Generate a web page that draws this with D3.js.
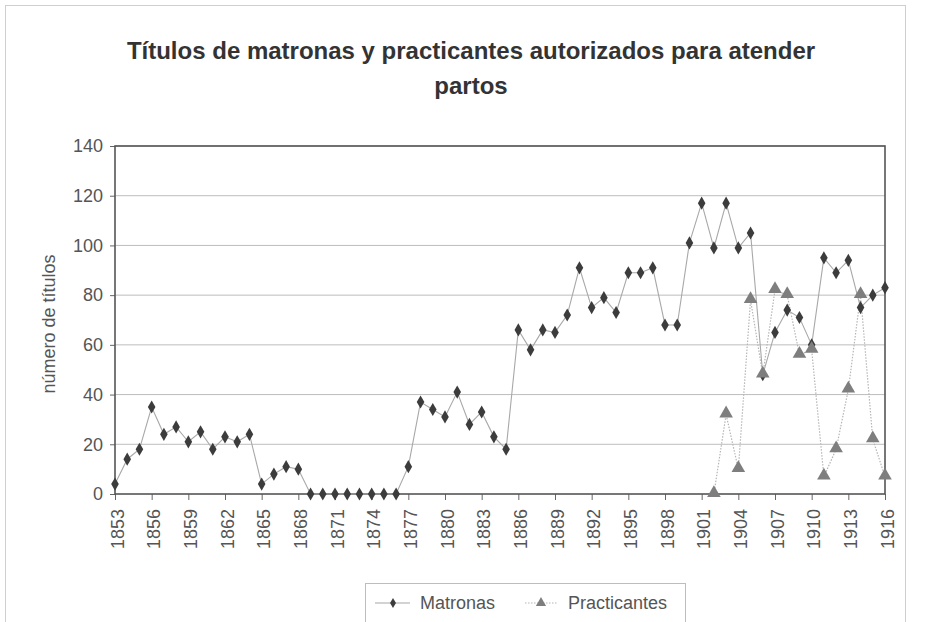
<!DOCTYPE html>
<html><head><meta charset="utf-8">
<script src="https://cdn.jsdelivr.net/npm/d3@7"></script>
<style>
html,body{margin:0;padding:0;background:#fff;}
svg{display:block;font-family:"Liberation Sans",Arial,sans-serif;}
</style></head>
<body>
<svg id="chart" width="933" height="622"></svg>
<script>
const years = d3.range(1853, 1917);
const matronas = [4,14,18,35,24,27,21,25,18,23,21,24,4,8,11,10,
  0,0,0,0,0,0,0,0,11,37,34,31,41,28,33,23,18,
  66,58,66,65,72,91,75,79,73,89,89,91,68,68,101,117,99,117,99,105,
  48,65,74,71,60,95,89,94,75,80,83];
const practicantesYears = d3.range(1902, 1917);
const practicantes = [0,32,10,78,48,82,80,56,58,7,18,42,80,22,7];
const yTicks = [0,20,40,60,80,100,120,140];
const xTickYears = d3.range(1853, 1917, 3);
const title = ["Títulos de matronas y practicantes autorizados para atender", "partos"];
const yLabel = "número de títulos";
const seriesNames = ["Matronas", "Practicantes"];

const svg = d3.select("#chart");
const L = 115, R = 885, T = 146, B = 494;
const x = d3.scaleLinear().domain([1853, 1916]).range([L, R]);
const y = d3.scaleLinear().domain([0, 140]).range([B, T]);

// outer chart area border
svg.append("rect").attr("x", 5.5).attr("y", 5.5).attr("width", 900).attr("height", 640)
  .attr("fill", "#fff").attr("stroke", "#cfcfcf").attr("stroke-width", 1);

// title
svg.append("g").selectAll("text").data(title).join("text")
  .attr("x", 471).attr("y", (d, i) => 59 + i * 35)
  .attr("text-anchor", "middle").attr("font-size", 24).attr("font-weight", "bold")
  .attr("fill", "#333").text(d => d);

// gridlines
svg.append("g").selectAll("line").data(yTicks.slice(1)).join("line")
  .attr("x1", L).attr("x2", R).attr("y1", d => y(d)).attr("y2", d => y(d))
  .attr("stroke", "#bdbdbd").attr("stroke-width", 1);

// y axis
const yAxis = svg.append("g").attr("transform", `translate(${L},0)`)
  .call(d3.axisLeft(y).tickValues(yTicks).tickSize(5).tickPadding(7));
yAxis.select(".domain").remove();
yAxis.selectAll("line").attr("stroke", "#666");
yAxis.selectAll("text").attr("font-size", 18).attr("fill", "#555")
  .attr("font-family", "Liberation Sans, Arial, sans-serif");

// x axis
const xAxis = svg.append("g").attr("transform", `translate(0,${B})`)
  .call(d3.axisBottom(x).tickValues(xTickYears).tickFormat(d3.format("d")).tickSize(6));
xAxis.select(".domain").remove();
xAxis.selectAll("line").attr("stroke", "#666");
xAxis.selectAll("text").attr("font-size", 18).attr("fill", "#555")
  .attr("font-family", "Liberation Sans, Arial, sans-serif")
  .attr("text-anchor", "end").attr("dy", "0.35em")
  .attr("transform", "translate(2,15) rotate(-90)").attr("x", 0).attr("y", 0);

// frame
svg.append("rect").attr("x", L).attr("y", T).attr("width", R - L).attr("height", B - T)
  .attr("fill", "none").attr("stroke", "#555").attr("stroke-width", 1.6);

// y label
svg.append("text").attr("transform", "translate(55,324) rotate(-90)")
  .attr("text-anchor", "middle").attr("font-size", 18).attr("fill", "#555").text(yLabel);

// lines
const mData = years.map((yr, i) => [yr, matronas[i]]);
const pData = practicantesYears.map((yr, i) => [yr, practicantes[i]]);
const line = d3.line().x(d => x(d[0])).y(d => y(d[1]));

svg.append("path").datum(pData).attr("d", line).attr("fill", "none")
  .attr("stroke", "#b5b5b5").attr("stroke-width", 1.2).attr("stroke-dasharray", "1.5,1.5");
svg.append("path").datum(mData).attr("d", line).attr("fill", "none")
  .attr("stroke", "#a8a8a8").attr("stroke-width", 1.1);

const diamond = d3.symbol().type(d3.symbolDiamond).size(50);
const tri = d3.symbol().type(d3.symbolTriangle).size(80);

svg.append("g").selectAll("path").data(mData).join("path")
  .attr("d", diamond).attr("transform", d => `translate(${x(d[0])},${y(d[1])})`)
  .attr("fill", "#3c3c3c");
svg.append("g").selectAll("path").data(pData).join("path")
  .attr("d", tri).attr("transform", d => `translate(${x(d[0])},${y(d[1]) - 1})`)
  .attr("fill", "#7e7e7e");

// legend
const lg = svg.append("g");
lg.append("rect").attr("x", 365.5).attr("y", 583.5).attr("width", 320).attr("height", 45)
  .attr("fill", "#fff").attr("stroke", "#bdbdbd");
lg.append("line").attr("x1", 375).attr("x2", 410).attr("y1", 603).attr("y2", 603)
  .attr("stroke", "#a8a8a8").attr("stroke-width", 1.1);
lg.append("path").attr("d", d3.symbol().type(d3.symbolDiamond).size(30))
  .attr("transform", "translate(393,603)").attr("fill", "#3c3c3c");
lg.append("text").attr("x", 420).attr("y", 609).attr("font-size", 18).attr("fill", "#555").text(seriesNames[0]);
lg.append("line").attr("x1", 525).attr("x2", 557).attr("y1", 603).attr("y2", 603)
  .attr("stroke", "#b5b5b5").attr("stroke-width", 1.2).attr("stroke-dasharray", "1.5,1.5");
lg.append("path").attr("d", d3.symbol().type(d3.symbolTriangle).size(45))
  .attr("transform", "translate(541,603)").attr("fill", "#7e7e7e");
lg.append("text").attr("x", 568).attr("y", 609).attr("font-size", 18).attr("fill", "#555").text(seriesNames[1]);
</script>
</body></html>
